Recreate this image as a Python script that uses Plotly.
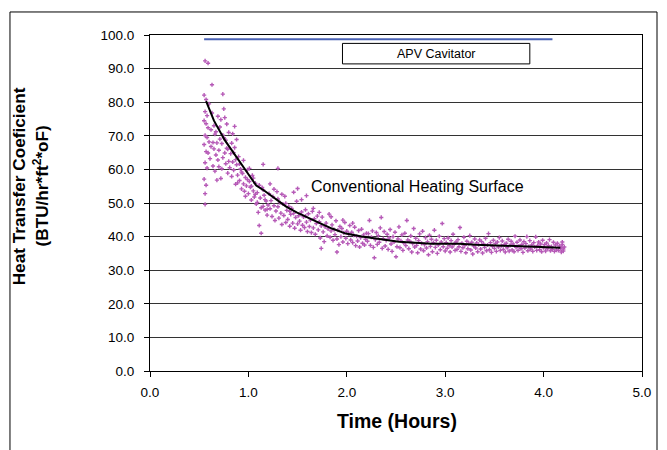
import plotly.graph_objects as go

# ---- data ----
scatter_pts = [
(0.56,92.3),(0.59,91.6),(0.63,85.2),(0.55,82.1),(0.57,80.8),(0.60,79.5),(0.56,77.2),(0.58,76.0),(0.55,74.5),(0.57,73.6),
(0.59,72.4),(0.56,70.1),(0.58,69.5),(0.60,68.2),(0.55,67.4),(0.62,66.8),(0.57,65.3),(0.59,64.9),(0.61,63.2),(0.56,62.0),
(0.58,60.4),(0.55,57.1),(0.57,55.3),(0.56,49.6),(0.64,68.0),(0.65,66.1),(0.66,70.5),(0.67,64.3),(0.68,67.9),(0.69,62.8),
(0.70,65.7),(0.71,69.0),(0.72,74.8),(0.73,60.2),(0.74,63.5),(0.75,78.0),(0.76,75.4),(0.77,61.7),(0.78,66.3),(0.79,58.9),
(0.62,71.8),(0.64,61.0),(0.66,59.5),(0.68,56.8),(0.70,60.8),(0.72,57.3),(0.74,70.2),(0.76,64.9),(0.78,73.5),(0.80,62.4),
(0.63,76.8),(0.65,73.0),(0.67,71.2),(0.69,75.8),(0.71,72.6),(0.73,67.7),(0.75,69.4),(0.77,68.7),(0.79,66.0),(0.80,71.0),
(0.74,82.4),(0.86,72.8),(1.30,60.3),(1.15,61.5),(0.56,52.8),
(0.81,60.5),(0.82,64.7),(0.83,57.9),(0.84,62.2),(0.85,59.8),(0.86,66.5),(0.87,55.6),(0.88,61.4),(0.89,58.3),(0.90,63.8),
(0.91,56.7),(0.92,60.1),(0.93,54.2),(0.94,58.8),(0.95,62.7),(0.96,53.5),(0.97,57.6),(0.98,55.1),(0.99,59.9),(1.00,52.8),
(1.01,56.4),(1.02,54.7),(1.03,50.9),(1.04,58.2),(1.05,53.6),(1.06,51.8),(1.07,55.9),(1.08,49.7),(1.09,53.1),(1.10,47.2),
(1.11,43.3),(1.12,51.5),(1.13,41.0),(1.14,54.6),(1.15,49.0),(1.16,52.3),(1.17,47.9),(1.18,50.6),(1.19,46.4),(1.20,49.4),
(0.83,67.8),(0.85,65.0),(0.87,62.9),(0.89,56.0),(0.91,61.6),(0.93,59.2),(0.95,55.7),(0.97,52.0),(0.99,57.0),(1.01,60.3),
(1.03,55.0),(1.05,57.4),(1.07,52.6),(1.09,50.2),(1.11,55.3),(1.13,48.6),(1.15,53.9),(1.17,51.0),(1.19,48.1),(0.84,70.6),(0.88,68.9),
(1.21,52.8),(1.22,48.3),(1.23,50.7),(1.24,46.0),(1.25,51.9),(1.26,49.2),(1.27,44.8),(1.28,47.6),(1.29,53.4),(1.30,48.9),
(1.31,45.5),(1.32,50.1),(1.33,47.0),(1.34,43.6),(1.35,49.7),(1.36,46.3),(1.37,52.0),(1.38,44.2),(1.39,47.8),(1.40,45.1),
(1.41,49.0),(1.42,43.1),(1.43,46.6),(1.44,48.4),(1.45,44.0),(1.46,46.9),(1.47,42.5),(1.48,45.7),(1.49,50.5),(1.50,43.8),
(1.51,46.2),(1.52,44.6),(1.53,41.9),(1.54,47.3),(1.55,43.4),(1.56,45.9),(1.57,42.7),(1.58,48.0),(1.59,44.3),(1.60,41.5),
(1.22,55.7),(1.26,54.1),(1.30,51.2),(1.34,52.6),(1.38,49.9),(1.42,47.5),(1.46,53.2),(1.50,54.3),(1.54,51.0),(1.58,46.1),
(1.61,46.8),(1.62,43.0),(1.63,44.9),(1.64,41.2),(1.65,47.5),(1.66,42.6),(1.67,45.3),(1.68,40.7),(1.69,43.9),(1.70,46.1),
(1.71,42.0),(1.72,44.4),(1.73,39.6),(1.74,43.2),(1.75,45.8),(1.76,41.4),(1.77,38.5),(1.78,42.9),(1.79,44.0),(1.80,40.2),
(1.81,42.3),(1.82,46.7),(1.83,39.8),(1.84,41.7),(1.85,43.5),(1.86,38.9),(1.87,42.1),(1.88,40.6),(1.89,44.7),(1.90,39.3),
(1.91,41.9),(1.92,37.6),(1.93,43.0),(1.94,40.0),(1.95,42.4),(1.96,38.4),(1.97,41.1),(1.98,44.2),(1.99,39.5),(2.00,41.6),
(2.01,37.9),(2.02,40.8),(2.03,43.3),(2.04,39.0),(2.05,41.3),(2.06,38.2),(2.07,40.4),(2.08,42.8),(2.09,37.3),(2.10,40.1),
(2.11,38.7),(2.12,41.8),(2.13,36.9),(2.14,39.7),(2.15,42.2),(2.16,38.0),(2.17,40.5),(2.18,37.5),(2.19,39.2),(2.20,41.0),
(1.66,48.4),(1.72,47.2),(1.84,45.9),(1.96,44.9),(2.06,44.0),(1.74,36.5),(1.90,35.4),(1.59,52.2),
(2.21,38.6),(2.22,40.9),(2.23,44.8),(2.24,37.4),(2.25,39.8),(2.26,41.7),(2.27,36.8),(2.28,33.7),(2.29,39.1),(2.30,41.2),
(2.31,37.7),(2.32,40.3),(2.33,38.3),(2.34,42.6),(2.35,45.7),(2.36,36.5),(2.37,39.4),(2.38,41.5),(2.39,37.2),(2.40,38.9),
(2.41,40.7),(2.42,36.2),(2.43,39.6),(2.44,42.1),(2.45,37.8),(2.46,35.6),(2.47,40.0),(2.48,38.4),(2.49,41.3),(2.50,34.0),
(2.51,37.0),(2.52,39.3),(2.53,42.9),(2.54,36.7),(2.55,38.7),(2.56,40.5),(2.57,35.9),(2.58,38.1),(2.59,41.0),(2.60,37.3),
(2.61,44.8),(2.62,39.0),(2.63,36.4),(2.64,38.6),(2.65,40.2),(2.66,35.4),(2.67,37.9),(2.68,42.4),(2.69,36.9),(2.70,39.5),
(2.71,37.4),(2.72,35.2),(2.73,38.8),(2.74,40.8),(2.75,36.3),(2.76,38.0),(2.77,41.6),(2.78,35.8),(2.79,37.6),(2.80,39.7),
(2.81,36.6),(2.82,38.5),(2.83,34.6),(2.84,40.4),(2.85,37.1),(2.86,39.2),(2.87,35.5),(2.88,38.2),(2.89,41.9),(2.90,36.8),
(2.91,38.9),(2.92,35.0),(2.93,37.5),(2.94,40.1),(2.95,36.1),(2.96,38.4),(2.97,43.9),(2.98,37.0),(2.99,39.4),(3.00,35.7),
(3.01,38.2),(3.02,36.5),(3.03,39.6),(3.04,37.3),(3.05,35.4),(3.06,38.8),(3.07,36.9),(3.08,40.7),(3.09,37.7),(3.10,35.9),
(3.11,38.4),(3.12,36.2),(3.13,39.1),(3.14,37.0),(3.15,42.7),(3.16,35.6),(3.17,38.0),(3.18,36.7),(3.19,39.8),(3.20,37.4),
(3.21,35.2),(3.22,38.6),(3.23,36.4),(3.24,37.9),(3.25,40.3),(3.26,36.0),(3.27,38.3),(3.28,34.8),(3.29,37.2),(3.30,39.3),
(3.31,36.6),(3.32,38.1),(3.33,35.5),(3.34,37.6),(3.35,39.0),(3.36,36.3),(3.37,38.5),(3.38,35.1),(3.39,37.8),(3.40,36.8),
(3.41,39.5),(3.42,35.8),(3.43,37.5),(3.44,40.9),(3.45,36.1),(3.46,38.2),(3.47,35.3),(3.48,37.1),(3.49,38.9),(3.50,36.5),
(3.51,37.9),(3.52,35.6),(3.53,38.4),(3.54,36.9),(3.55,39.7),(3.56,35.9),(3.57,37.3),(3.58,38.7),(3.59,36.2),(3.60,37.6),
(3.61,35.4),(3.62,38.0),(3.63,36.7),(3.64,39.2),(3.65,35.7),(3.66,37.4),(3.67,38.6),(3.68,36.0),(3.69,37.8),(3.70,35.5),
(3.71,40.1),(3.72,36.8),(3.73,38.3),(3.74,35.9),(3.75,37.2),(3.76,39.0),(3.77,36.4),(3.78,37.7),(3.79,35.3),(3.80,38.5),
(3.81,36.6),(3.82,37.9),(3.83,40.0),(3.84,35.8),(3.85,37.0),(3.86,38.8),(3.87,36.3),(3.88,37.5),(3.89,35.6),(3.90,38.2),
(3.91,36.9),(3.92,39.9),(3.93,35.9),(3.94,37.4),(3.95,38.4),(3.96,36.1),(3.97,37.8),(3.98,35.5),(3.99,38.9),(4.00,36.7),
(4.01,37.6),(4.02,35.7),(4.03,38.1),(4.04,36.4),(4.05,37.3),(4.06,39.1),(4.07,35.8),(4.08,37.0),(4.09,36.2),(4.10,38.3),
(4.11,35.6),(4.12,37.5),(4.13,36.0),(4.14,38.0),(4.15,35.9),(4.16,37.2),(4.17,36.5),(4.18,35.4),(4.19,37.7),(4.20,36.3),
(4.21,36.9),(4.20,35.7),(4.19,38.4),(4.18,36.8),
]
scatter_time = [p[0] for p in scatter_pts]
scatter_htc = [p[1] for p in scatter_pts]

trend_time = [0.57,0.65,0.76,0.89,0.99,1.08,1.17,1.27,1.38,1.49,1.60,1.72,1.85,1.99,2.15,2.30,2.53,2.86,3.14,3.31,3.64,3.90,4.17]
trend_htc  = [80.3,74.5,68.7,63.3,59.1,55.2,53.5,51.3,49.0,47.2,45.6,44.1,42.4,40.9,40.0,39.4,38.5,37.9,37.9,37.6,37.3,37.0,36.7]

apv_time = [0.55, 4.09]
apv_htc = [98.7, 98.7]

x_ticks = [0, 1, 2, 3, 4, 5]
y_ticks = [0, 10, 20, 30, 40, 50, 60, 70, 80, 90, 100]

FONT = "Liberation Sans, Arial, sans-serif"

fig = go.Figure()
fig.add_trace(go.Scatter(x=scatter_time, y=scatter_htc, mode="markers",
                         marker=dict(symbol="cross", size=3.5, color="#b65ab7", line=dict(width=0)),
                         showlegend=False, cliponaxis=False))
fig.add_trace(go.Scatter(x=trend_time, y=trend_htc, mode="lines",
                         line=dict(color="black", width=2), showlegend=False))
fig.add_trace(go.Scatter(x=apv_time, y=apv_htc, mode="lines",
                         line=dict(color="#4a62b4", width=2), showlegend=False, cliponaxis=False))

# page body has an 8px margin, so the figure is 659x442 placed at (8,8)
fig.update_layout(
    width=659, height=442,
    margin=dict(l=142, r=25, t=27, b=79),
    paper_bgcolor="white", plot_bgcolor="white",
    font=dict(family=FONT, size=13.5, color="black"),
    showlegend=False,
)
fig.update_xaxes(range=[0, 5], tickvals=x_ticks, tickformat=".1f",
                 showgrid=False, zeroline=False, showline=True, linecolor="black", linewidth=1,
                 mirror=True, ticks="outside", ticklen=5, tickcolor="black", ticklabelstandoff=4)
fig.update_yaxes(range=[0, 100], tickvals=y_ticks, tickformat=".1f",
                 showgrid=True, gridcolor="#333333", gridwidth=1, zeroline=False,
                 showline=True, linecolor="black", linewidth=1, mirror=True,
                 ticks="outside", ticklen=5, tickcolor="black", ticklabelstandoff=7)

# x-axis title
fig.add_annotation(xref="paper", yref="paper", x=0.502, y=-0.149,
                   text="<b>Time (Hours)</b>", showarrow=False,
                   font=dict(size=19.5, family=FONT), xanchor="center", yanchor="middle")
# y-axis title (two lines)
fig.add_annotation(xref="paper", yref="paper", x=-0.266, y=0.55, textangle=-90,
                   text="<b>Heat Transfer Coeficient</b>", showarrow=False,
                   font=dict(size=17.2, family=FONT), xanchor="center", yanchor="middle")
fig.add_annotation(xref="paper", yref="paper", x=-0.221, y=0.55, textangle=-90,
                   text="<b>(BTU/hr*ft<sup>2</sup>*oF)</b>", showarrow=False,
                   font=dict(size=17.2, family=FONT), xanchor="center", yanchor="middle")

# legend-like box
fig.add_shape(type="rect", xref="x", yref="y", x0=1.956, x1=3.86, y0=91.4, y1=97.5,
              line=dict(color="black", width=1), fillcolor="white")
fig.add_annotation(xref="x", yref="y", x=2.91, y=94.45, text="APV Cavitator", showarrow=False,
                   font=dict(size=12.5, family=FONT))

fig.add_annotation(xref="x", yref="y", x=2.72, y=55.0, text="Conventional Heating Surface",
                   showarrow=False, font=dict(size=16, family=FONT))

# outer chart frame
fig.add_shape(type="rect", xref="paper", yref="paper", x0=-0.2846, x1=1.0305, y0=-0.3, y1=1.0685,
              line=dict(color="black", width=1), fillcolor="rgba(0,0,0,0)", layer="above")

fig.write_html("out.html")
